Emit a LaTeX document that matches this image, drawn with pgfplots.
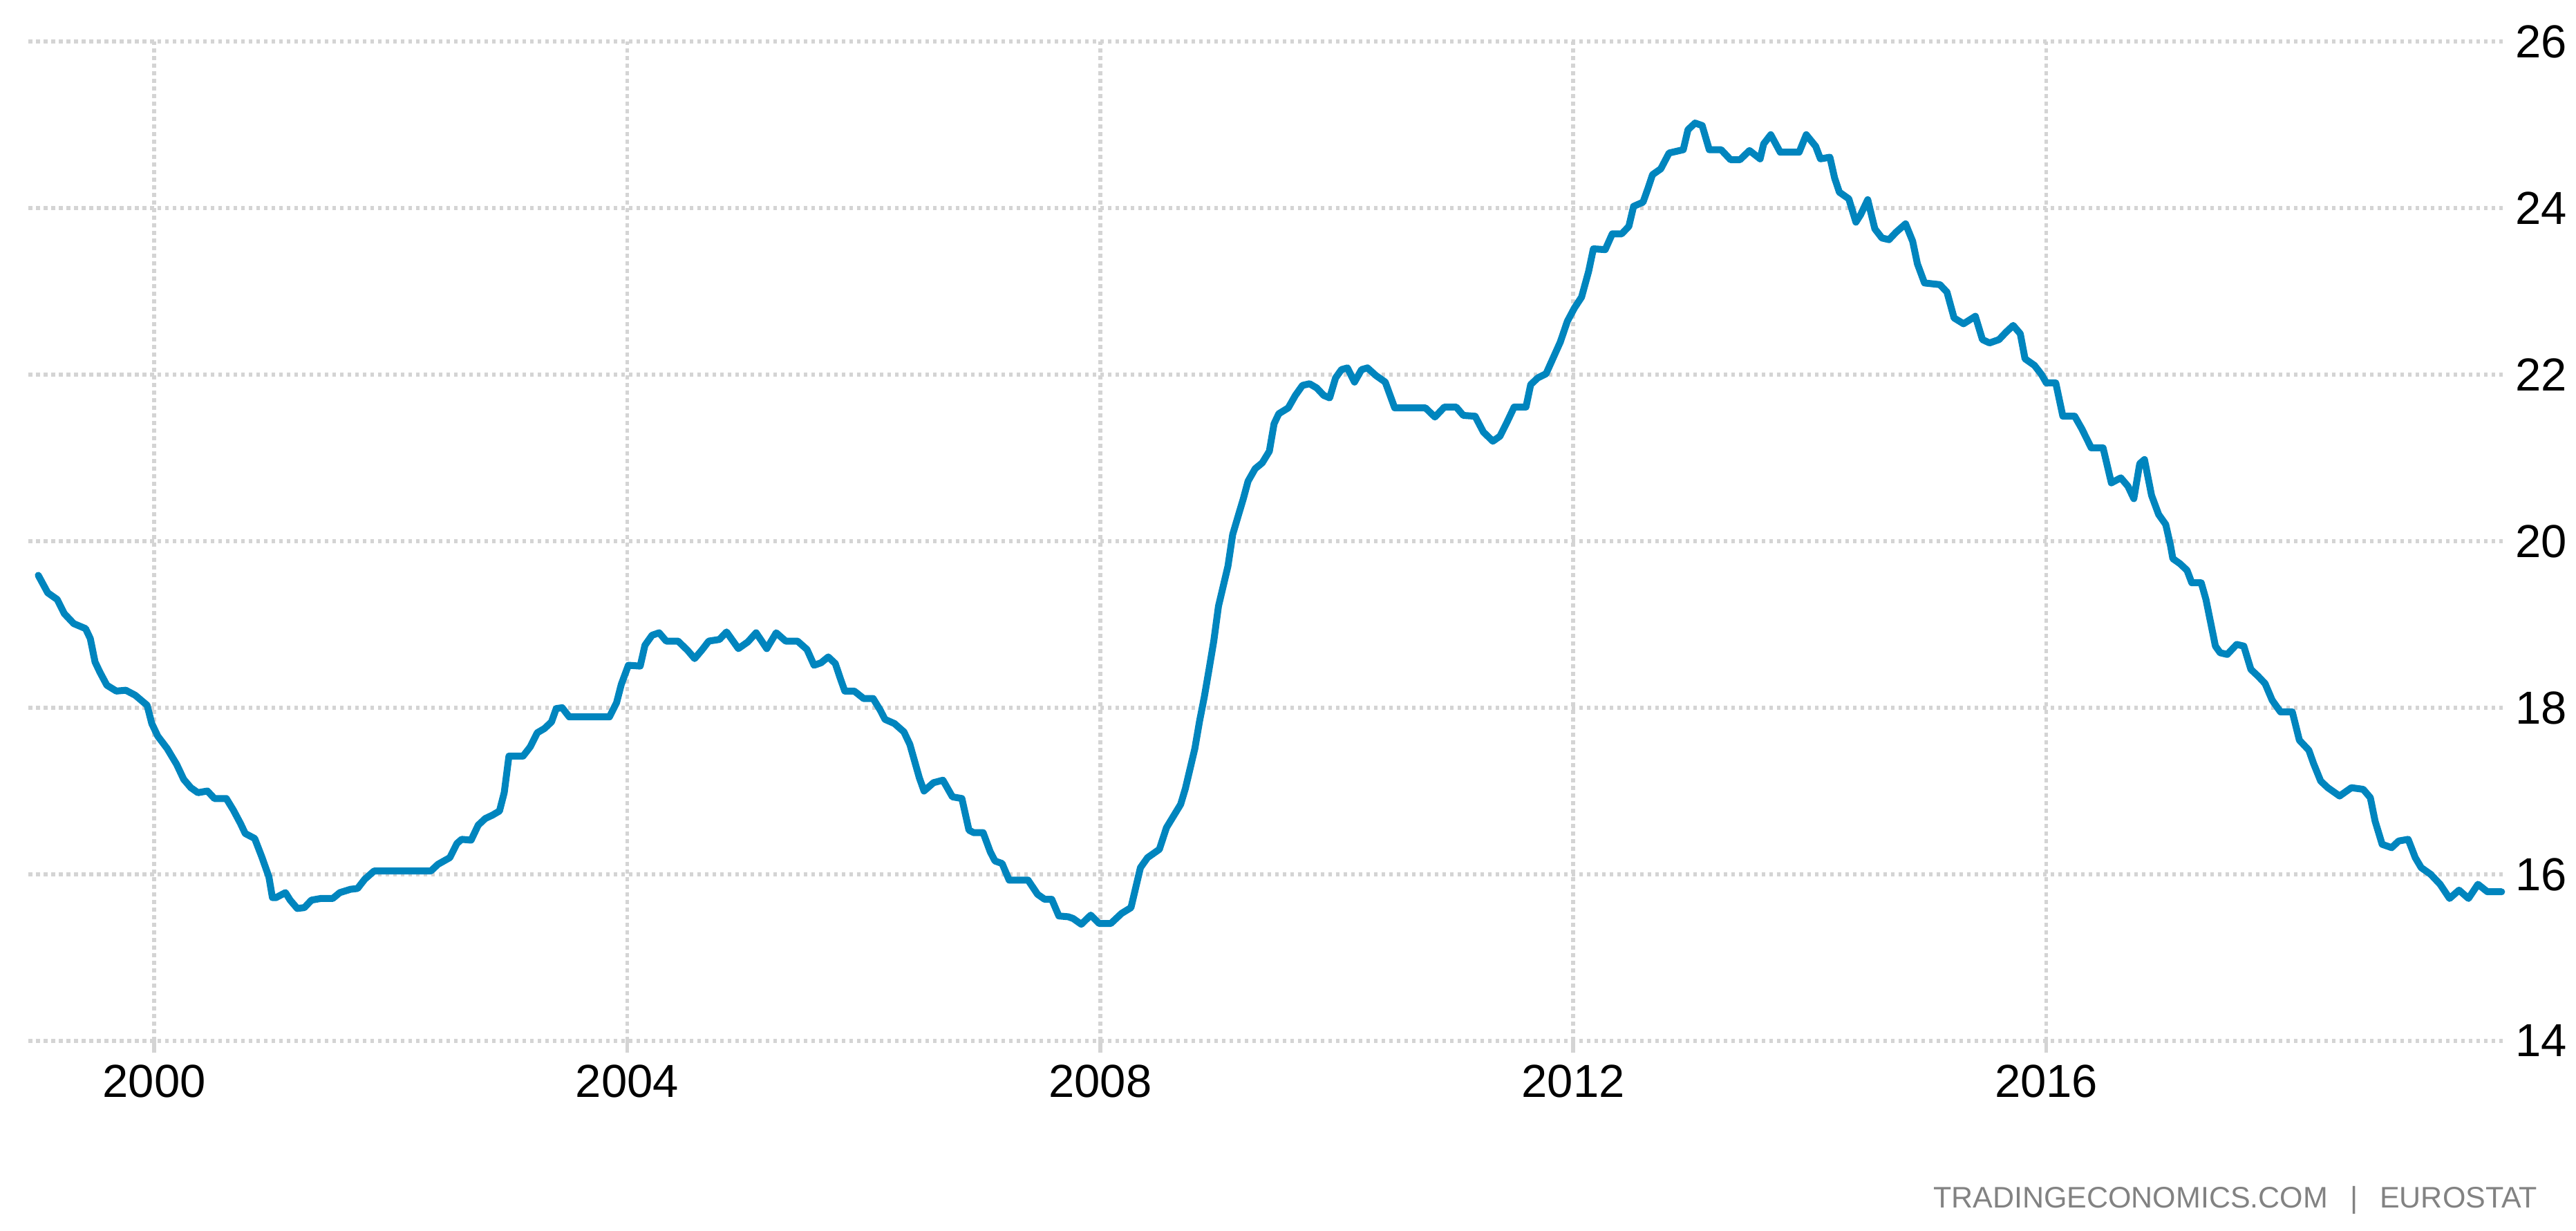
\documentclass[border=0pt]{standalone}
\usepackage{fontspec}
\setmainfont{Liberation Sans}
\usepackage{pgfplots}
\pgfplotsset{compat=1.18}
\definecolor{teblue}{RGB}{0,133,190}
\definecolor{gridc}{RGB}{212,212,212}
\definecolor{wmark}{RGB}{130,130,130}
\begin{document}
\fontsize{6.7pt}{8pt}\selectfont
\begin{tikzpicture}[x=1pt,y=1pt]
\path[use as bounding box] (-4.1,-27.5) rectangle (368.6,150.6);
\begin{axis}[
  at={(0,0)}, anchor=south west,
  scale only axis, width=358.4pt, height=144.6pt,
  xmin=1998.936, xmax=2019.883, ymin=14, ymax=26,
  axis line style={draw=none},
  grid=major,
  major grid style={draw=gridc, line width=0.55pt, dash pattern=on 0.55pt off 0.55pt},
  xtick={2000,2004,2008,2012,2016},
  xticklabels={2000,2004,2008,2012,2016},
  ytick={14,16,18,20,22,24,26},
  yticklabels={14,16,18,20,22,24,26},
  xtick pos=lower,
  yticklabel pos=right,
  tick align=outside,
  major tick length=1.7pt,
  xtick style={draw=gridc, line width=0.55pt, solid},
  ytick style={draw=none},
  xticklabel style={anchor=north, inner sep=0pt, yshift=-1.6pt},
  yticklabel style={anchor=west, inner sep=0pt, xshift=-0.5pt},
  clip=false,
]
\addplot[teblue, line width=1.0pt, line join=round, line cap=round, mark=none] coordinates {
(1999.02,19.59)(1999.10,19.38)(1999.18,19.30)(1999.24,19.13)(1999.32,19.01)(1999.42,18.95)(1999.46,18.83)(1999.50,18.55)(1999.54,18.43)(1999.60,18.27)(1999.68,18.20)(1999.76,18.21)(1999.84,18.15)(1999.94,18.03)(1999.98,17.81)(2000.03,17.66)(2000.11,17.51)(2000.19,17.32)(2000.25,17.14)(2000.31,17.04)(2000.37,16.98)(2000.45,17.00)(2000.51,16.91)(2000.61,16.91)(2000.67,16.77)(2000.73,16.61)(2000.77,16.49)(2000.85,16.43)(2000.91,16.21)(2000.97,15.97)(2001.00,15.72)(2001.03,15.72)(2001.11,15.78)(2001.15,15.69)(2001.21,15.59)(2001.27,15.60)(2001.33,15.69)(2001.41,15.71)(2001.51,15.71)(2001.57,15.78)(2001.66,15.82)(2001.72,15.83)(2001.78,15.94)
(2001.86,16.04)(2002.34,16.04)(2002.40,16.12)(2002.50,16.20)(2002.56,16.37)(2002.60,16.42)(2002.68,16.41)(2002.74,16.59)(2002.80,16.67)(2002.86,16.71)(2002.92,16.76)(2002.96,16.98)(2003.00,17.42)(2003.12,17.42)(2003.18,17.53)(2003.24,17.70)(2003.30,17.75)(2003.36,17.83)(2003.40,17.99)(2003.45,18.00)(2003.51,17.89)(2003.85,17.89)(2003.91,18.06)(2003.95,18.28)(2004.01,18.51)(2004.11,18.50)(2004.15,18.75)(2004.21,18.87)(2004.27,18.90)(2004.33,18.80)(2004.43,18.80)(2004.51,18.69)(2004.57,18.59)(2004.63,18.69)(2004.69,18.80)(2004.78,18.82)(2004.84,18.91)
(2004.94,18.71)(2005.02,18.79)(2005.09,18.90)(2005.18,18.71)(2005.26,18.90)(2005.34,18.80)(2005.44,18.80)(2005.52,18.70)(2005.58,18.51)(2005.64,18.54)(2005.70,18.61)(2005.76,18.53)(2005.80,18.36)(2005.84,18.20)(2005.92,18.20)(2006.00,18.11)(2006.08,18.11)(2006.14,17.97)(2006.18,17.86)(2006.26,17.81)(2006.34,17.71)(2006.39,17.56)(2006.43,17.36)(2006.47,17.16)(2006.51,17.00)(2006.59,17.10)(2006.67,17.13)(2006.75,16.93)(2006.83,16.91)(2006.89,16.53)(2006.93,16.50)(2007.01,16.50)(2007.07,16.27)(2007.11,16.16)(2007.17,16.13)(2007.23,15.93)(2007.39,15.93)(2007.47,15.76)(2007.53,15.70)(2007.59,15.70)(2007.65,15.50)(2007.73,15.49)(2007.77,15.47)(2007.84,15.40)
(2007.92,15.51)(2007.99,15.41)(2008.09,15.41)(2008.18,15.53)(2008.26,15.60)(2008.30,15.84)(2008.34,16.08)(2008.40,16.20)(2008.50,16.30)(2008.56,16.56)(2008.62,16.70)(2008.68,16.84)(2008.72,17.03)(2008.76,17.27)(2008.80,17.51)(2008.84,17.84)(2008.88,18.13)(2008.92,18.46)(2008.96,18.80)(2009.00,19.22)(2009.04,19.46)(2009.08,19.70)(2009.12,20.08)(2009.17,20.32)(2009.21,20.51)(2009.25,20.72)(2009.31,20.87)(2009.37,20.94)(2009.43,21.08)(2009.47,21.41)(2009.51,21.53)(2009.59,21.60)(2009.65,21.75)(2009.71,21.87)(2009.77,21.89)(2009.83,21.84)(2009.89,21.75)(2009.94,21.72)(2009.99,21.96)(2010.04,22.06)(2010.09,22.08)(2010.15,21.91)(2010.21,22.06)(2010.26,22.08)(2010.33,21.99)(2010.41,21.91)(2010.49,21.60)(2010.75,21.60)(2010.83,21.49)
(2010.91,21.61)(2011.01,21.61)(2011.07,21.51)(2011.17,21.50)(2011.24,21.31)(2011.32,21.20)(2011.38,21.26)(2011.44,21.43)(2011.50,21.61)(2011.60,21.61)(2011.64,21.88)(2011.70,21.96)(2011.77,22.01)(2011.83,22.20)(2011.89,22.39)(2011.95,22.64)(2012.01,22.80)(2012.07,22.93)(2012.13,23.24)(2012.17,23.51)(2012.27,23.50)(2012.33,23.69)(2012.41,23.69)(2012.47,23.78)(2012.51,24.02)(2012.59,24.07)(2012.63,24.23)(2012.67,24.40)(2012.74,24.47)(2012.81,24.66)(2012.93,24.70)(2012.97,24.94)(2013.03,25.02)(2013.09,24.99)(2013.15,24.70)(2013.25,24.70)(2013.33,24.58)(2013.41,24.58)(2013.49,24.69)(2013.58,24.59)(2013.61,24.77)(2013.67,24.88)(2013.75,24.67)(2013.91,24.67)(2013.97,24.88)
(2014.05,24.74)(2014.09,24.59)(2014.17,24.61)(2014.21,24.36)(2014.25,24.19)(2014.33,24.11)(2014.39,23.83)(2014.43,23.92)(2014.49,24.10)(2014.55,23.75)(2014.61,23.64)(2014.67,23.62)(2014.73,23.71)(2014.81,23.81)(2014.87,23.60)(2014.91,23.33)(2014.97,23.10)(2015.10,23.08)(2015.16,22.99)(2015.22,22.68)(2015.30,22.61)(2015.40,22.70)(2015.46,22.42)(2015.52,22.38)(2015.60,22.42)(2015.66,22.51)(2015.72,22.59)(2015.78,22.49)(2015.82,22.19)(2015.90,22.11)(2015.96,22.00)(2016.00,21.90)(2016.08,21.90)(2016.14,21.50)(2016.24,21.50)(2016.30,21.35)(2016.38,21.12)(2016.48,21.12)(2016.55,20.70)(2016.63,20.76)(2016.69,20.66)(2016.74,20.51)(2016.79,20.93)(2016.83,20.98)(2016.89,20.55)(2016.95,20.32)
(2017.01,20.20)(2017.05,19.95)(2017.07,19.79)(2017.13,19.73)(2017.19,19.65)(2017.23,19.50)(2017.31,19.50)(2017.35,19.30)(2017.39,19.02)(2017.43,18.74)(2017.47,18.66)(2017.53,18.64)(2017.61,18.76)(2017.67,18.74)(2017.73,18.46)(2017.79,18.38)(2017.85,18.29)(2017.91,18.09)(2017.98,17.95)(2018.08,17.95)(2018.14,17.61)(2018.22,17.49)(2018.26,17.33)(2018.32,17.12)(2018.38,17.04)(2018.48,16.94)(2018.58,17.04)(2018.68,17.02)(2018.74,16.92)(2018.78,16.64)(2018.84,16.36)(2018.92,16.32)(2018.98,16.40)(2019.06,16.42)(2019.12,16.20)(2019.17,16.08)(2019.25,16.00)(2019.33,15.88)(2019.41,15.71)(2019.49,15.81)(2019.57,15.71)(2019.65,15.88)(2019.73,15.79)(2019.85,15.79)
};
\end{axis}
\node[anchor=base east, inner sep=0pt, text=wmark, font=\fontsize{4.3pt}{5pt}\selectfont] at (363.2,-24.2) {TRADINGECONOMICS.COM\hspace{3.2pt}|\hspace{3.2pt}EUROSTAT};
\end{tikzpicture}
\end{document}
